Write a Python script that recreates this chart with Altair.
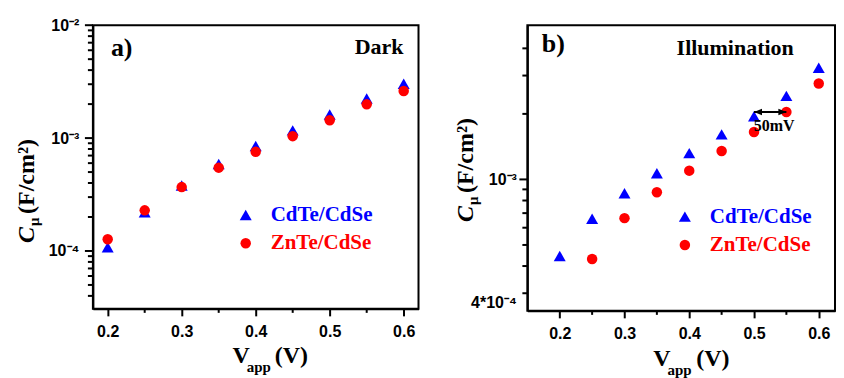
import altair as alt
import pandas as pd

# ---------------- data ----------------
V = [0.2, 0.25, 0.3, 0.35, 0.4, 0.45, 0.5, 0.55, 0.6]
dark_cdte = [1.08e-4, 2.2e-4, 3.8e-4, 5.9e-4, 8.5e-4, 1.17e-3, 1.62e-3, 2.24e-3, 3.03e-3]
dark_znte = [1.27e-4, 2.29e-4, 3.68e-4, 5.47e-4, 7.57e-4, 1.04e-3, 1.44e-3, 1.99e-3, 2.61e-3]
illum_v_cdte = [0.2, 0.25, 0.3, 0.35, 0.4, 0.45, 0.5, 0.55, 0.6]
illum_cdte = [4.45e-4, 6.6e-4, 8.64e-4, 1.067e-3, 1.32e-3, 1.61e-3, 1.95e-3, 2.42e-3, 3.26e-3]
illum_v_znte = [0.25, 0.3, 0.35, 0.4, 0.45, 0.5, 0.55, 0.6]
illum_znte = [4.31e-4, 6.64e-4, 8.73e-4, 1.097e-3, 1.35e-3, 1.65e-3, 2.04e-3, 2.76e-3]

series_names = ["CdTe/CdSe", "ZnTe/CdSe"]
series_colors = ["#0000ff", "#ff0000"]
series_shapes = ["triangle-up", "circle"]

x_ticks = [0.2, 0.3, 0.4, 0.5, 0.6]
x_minor = [0.25, 0.35, 0.45, 0.55]

dark_x_domain = [0.18, 0.62]
dark_y_domain = [3.07e-5, 1e-2]
dark_y_ticks = [1e-4, 1e-3, 1e-2]
dark_y_labels = ["10⁻⁴", "10⁻³", "10⁻²"]
dark_y_minor = [4e-5, 5e-5, 6e-5, 7e-5, 8e-5, 9e-5,
                2e-4, 3e-4, 4e-4, 5e-4, 6e-4, 7e-4, 8e-4, 9e-4,
                2e-3, 3e-3, 4e-3, 5e-3, 6e-3, 7e-3, 8e-3, 9e-3]

illum_x_domain = [0.15, 0.6251]
illum_y_domain = [2.49e-4, 5.11e-3]
illum_y_ticks = [2.49e-4, 1e-3]
illum_y_labels = ["4*10⁻⁴", "10⁻³"]
illum_y_major = [1e-3]
illum_y_minor = [3e-4, 4e-4, 5e-4, 6e-4, 7e-4, 8e-4, 9e-4, 2e-3, 3e-3, 4e-3]

arrow_x = [0.5, 0.55]
arrow_y = 2.04e-3
arrow_label = "50mV"

SERIF = "Liberation Serif"
SANS = "Liberation Sans"


def txt(s, x, y, size, align="left", baseline="middle", color="black",
        angle=0, style="normal", font=SERIF):
    return alt.Chart(pd.DataFrame({"t": [s]})).mark_text(
        font=font, fontSize=size, fontWeight="bold", fontStyle=style,
        color=color, align=align, baseline=baseline, angle=angle,
    ).encode(text="t:N", x=alt.value(x), y=alt.value(y))


def sym(shape, color, size, x, y):
    return alt.Chart(pd.DataFrame({"s": [shape]})).mark_point(
        shape=shape, filled=True, size=size, color=color, opacity=1, strokeWidth=0
    ).encode(x=alt.value(x), y=alt.value(y))


def panel(va, ca, vb, cb, xdom, ydom, w, h, yt, yl, ymaj, ymin, lpad, flush,
          tag, tag_xy, cond, cond_xy, cond_align, leg_xy, ytitle, xtitle, extra=None):
    xs = alt.Scale(domain=xdom, nice=False, zero=False)
    ys = alt.Scale(type="log", domain=ydom, nice=False)
    expr = ("[" + ",".join("'%s'" % l for l in yl) + "][indexof(["
            + ",".join(repr(v) for v in yt) + "], datum.value)]")
    xaxis = alt.Axis(values=x_ticks, format=".1f", title="", tickSize=7,
                     labelPadding=8, grid=False)
    yaxis = alt.Axis(values=yt, labelExpr=expr, title="", ticks=False, tickSize=0,
                     labelPadding=lpad, grid=False, labelFlush=flush)

    def X(f):
        return alt.X(f, scale=xs, axis=xaxis)

    def Y(f):
        return alt.Y(f, scale=ys, axis=yaxis)

    tri = alt.Chart(pd.DataFrame({"V": va, "C": ca})).mark_point(
        shape=series_shapes[0], filled=True, size=144, color=series_colors[0],
        opacity=1, strokeWidth=0
    ).encode(x=X("V:Q"), y=Y("C:Q"))
    cir = alt.Chart(pd.DataFrame({"V": vb, "C": cb})).mark_point(
        shape=series_shapes[1], filled=True, size=110, color=series_colors[1],
        opacity=1, strokeWidth=0
    ).encode(x=X("V:Q"), y=Y("C:Q"))
    ymaj_r = alt.Chart(pd.DataFrame({"C": ymaj})).mark_rule(color="black", strokeWidth=2).encode(
        y=Y("C:Q"), x=alt.value(-8), x2=alt.value(0))
    ymin_r = alt.Chart(pd.DataFrame({"C": ymin})).mark_rule(color="black", strokeWidth=2).encode(
        y=Y("C:Q"), x=alt.value(-5), x2=alt.value(0))
    xmin_r = alt.Chart(pd.DataFrame({"V": x_minor})).mark_rule(color="black", strokeWidth=2).encode(
        x=X("V:Q"), y=alt.value(h), y2=alt.value(h + 4))
    layers = [tri, cir, ymaj_r, ymin_r, xmin_r]
    if extra:
        layers += extra(X, Y)
    # annotations
    layers.append(txt(tag, tag_xy[0], tag_xy[1], 26))
    layers.append(txt(cond, cond_xy[0], cond_xy[1], 22, align=cond_align))
    lx, ly1, ly2, ltx = leg_xy
    layers.append(sym(series_shapes[0], series_colors[0], 144, lx, ly1))
    layers.append(sym(series_shapes[1], series_colors[1], 110, lx, ly2))
    layers.append(txt(series_names[0], ltx, ly1, 21, color=series_colors[0]))
    layers.append(txt(series_names[1], ltx, ly2, 21, color=series_colors[1]))
    # y title: C_mu (F/cm^2)
    bx, cy, my, fy = ytitle
    layers.append(txt("C", bx, cy, 24, baseline="alphabetic", angle=270, style="italic"))
    layers.append(txt("μ", bx + 5, my, 15, baseline="alphabetic", angle=270))
    layers.append(txt("(F/cm²)", bx, fy, 24, baseline="alphabetic", angle=270))
    # x title: V_app (V)
    vx, by, ax, px = xtitle
    layers.append(txt("V", vx, by, 24, baseline="alphabetic"))
    layers.append(txt("app", ax, by + 9, 15, baseline="alphabetic"))
    layers.append(txt("(V)", px, by, 24, baseline="alphabetic"))
    return alt.layer(*layers).properties(width=w, height=h)


def arrow_layers(X, Y):
    d = pd.DataFrame({"x1": [arrow_x[0]], "x2": [arrow_x[1]], "C": [arrow_y]})
    line = alt.Chart(d).mark_rule(color="black", strokeWidth=2).encode(
        x=X("x1:Q"), x2="x2:Q", y=Y("C:Q"))
    hl = alt.Chart(pd.DataFrame({"V": [arrow_x[0]], "C": [arrow_y]})).mark_point(
        shape="M0,0L2,-0.8L2,0.8Z", filled=True, size=64, color="black", opacity=1, strokeWidth=0
    ).encode(x=X("V:Q"), y=Y("C:Q"))
    hr = alt.Chart(pd.DataFrame({"V": [arrow_x[1]], "C": [arrow_y]})).mark_point(
        shape="M0,0L-2,-0.8L-2,0.8Z", filled=True, size=64, color="black", opacity=1, strokeWidth=0
    ).encode(x=X("V:Q"), y=Y("C:Q"))
    lab = alt.Chart(pd.DataFrame({"V": [(arrow_x[0] + arrow_x[1]) / 2], "C": [arrow_y],
                                  "t": [arrow_label]})).mark_text(
        font=SERIF, fontSize=16, fontWeight="bold", color="black", dy=14, dx=4, baseline="middle"
    ).encode(x=X("V:Q"), y=Y("C:Q"), text="t:N")
    return [line, hl, hr, lab]


left = panel(V, dark_cdte, V, dark_znte, dark_x_domain, dark_y_domain, 326, 284,
             dark_y_ticks, dark_y_labels, dark_y_ticks, dark_y_minor, 14, False,
             "a)", (18, 22.5), "Dark", (311, 21.7), "right",
             (153, 190, 218.3, 178),
             (-59, 218, 201, 189),
             (139.7, 338.3, 154, 182))

right = panel(illum_v_cdte, illum_cdte, illum_v_znte, illum_znte, illum_x_domain, illum_y_domain,
              308, 286, illum_y_ticks, illum_y_labels, illum_y_major, illum_y_minor, 11, True,
              "b)", (14.4, 19), "Illumination", (149.4, 23), "left",
              (157.7, 191.7, 220, 182.7),
              (-54.3, 197, 180, 168),
              (126, 341.7, 140.3, 169),
              extra=arrow_layers)

chart = alt.hconcat(left, right, spacing=109, bounds="flush").properties(
    padding={"left": 6, "top": 8, "right": 0, "bottom": 0},
    background="white",
).configure_view(stroke="black", strokeWidth=2).configure_axis(
    domainColor="black", domainWidth=2, tickColor="black", tickWidth=2,
    labelFont=SANS, labelFontWeight="bold", labelFontSize=16, labelColor="black",
    grid=False,
)

chart.save("out.html", embed_options={"renderer": "svg", "actions": False})
